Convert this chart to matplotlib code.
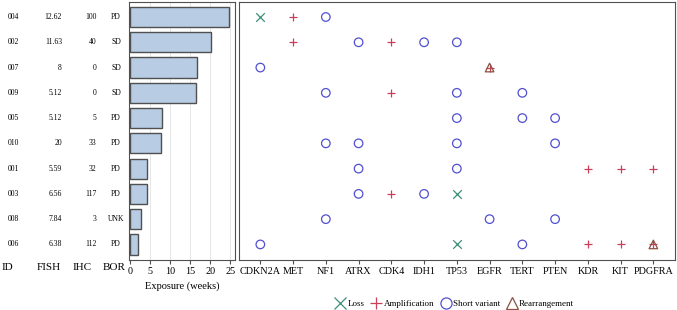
import matplotlib as mpl
mpl.use('Agg')
import matplotlib.pyplot as plt
from matplotlib.lines import Line2D

plt.rcParams['font.family'] = ['Liberation Serif', 'DejaVu Serif']

# patient table, top to bottom
ids = ['004', '002', '007', '009', '005', '010', '001', '003', '008', '006']
fish = ['12.62', '11.63', '8', '5.12', '5.12', '20', '5.59', '6.56', '7.84', '6.38']
ihc = ['100', '40', '0', '0', '5', '33', '32', '117', '3', '112']
bor = ['PD', 'SD', 'SD', 'SD', 'PD', 'PD', 'PD', 'PD', 'UNK', 'PD']
exposure = [24.7, 20.2, 16.8, 16.6, 8.1, 7.75, 4.2, 4.2, 2.8, 2.1]

genes = ['CDKN2A', 'MET', 'NF1', 'ATRX', 'CDK4', 'IDH1', 'TP53', 'EGFR',
         'TERT', 'PTEN', 'KDR', 'KIT', 'PDGFRA']

loss = [('004', 'CDKN2A'), ('003', 'TP53'), ('006', 'TP53')]
amplification = [('004', 'MET'), ('002', 'MET'), ('002', 'CDK4'), ('007', 'EGFR'),
                 ('009', 'CDK4'), ('001', 'KDR'), ('001', 'KIT'), ('001', 'PDGFRA'),
                 ('003', 'CDK4'), ('006', 'KDR'), ('006', 'KIT'), ('006', 'PDGFRA')]
short_variant = [('004', 'NF1'), ('002', 'ATRX'), ('002', 'IDH1'), ('002', 'TP53'),
                 ('007', 'CDKN2A'), ('009', 'NF1'), ('009', 'TP53'), ('009', 'TERT'),
                 ('005', 'TP53'), ('005', 'TERT'), ('005', 'PTEN'),
                 ('010', 'NF1'), ('010', 'ATRX'), ('010', 'TP53'), ('010', 'PTEN'),
                 ('001', 'ATRX'), ('001', 'TP53'), ('003', 'ATRX'), ('003', 'IDH1'),
                 ('008', 'NF1'), ('008', 'EGFR'), ('008', 'PTEN'),
                 ('006', 'CDKN2A'), ('006', 'TERT')]
rearrangement = [('007', 'EGFR'), ('006', 'PDGFRA')]

n = len(ids)
ypos = [n - 1 - i for i in range(n)]
row = dict(zip(ids, ypos))
col = {g: i for i, g in enumerate(genes)}

fig = plt.figure(figsize=(6.77, 3.10), dpi=100)
ax1 = fig.add_axes([0.191, 0.161, 0.1566, 0.833])
ax2 = fig.add_axes([0.3526, 0.161, 0.6444, 0.833])

# exposure bars
ax1.barh(ypos, exposure, height=0.8, color='#b8cce4', edgecolor='#505050', linewidth=1.0, zorder=2)
ax1.set_xlim(-0.15, 26.3)
ax1.set_ylim(-0.62, 9.6)
ax1.set_xticks([0, 5, 10, 15, 20, 25])
ax1.set_yticks([])
for v in [5, 10, 15, 20, 25]:
    ax1.axvline(v, color='#e6e6e6', lw=0.7, zorder=1)
ax1.tick_params(axis='x', labelsize=7.3, length=3, width=0.8, color='#505050', pad=2)
ax1.set_xlabel('Exposure (weeks)', fontsize=7.5, labelpad=4)
for s in ax1.spines.values():
    s.set_color('#505050')

# patient table (pixel columns converted to axes fraction)
trans = ax1.get_yaxis_transform()
fx = lambda px: (px - 129.3) / 106.0
for i, y in enumerate(ypos):
    ax1.text(fx(13.5), y, ids[i], transform=trans, fontsize=5.5, ha='center', va='center', clip_on=False)
    ax1.text(fx(62), y, fish[i], transform=trans, fontsize=5.5, ha='right', va='center', clip_on=False)
    ax1.text(fx(96.5), y, ihc[i], transform=trans, fontsize=5.5, ha='right', va='center', clip_on=False)
    ax1.text(fx(116), y, bor[i], transform=trans, fontsize=5.5, ha='center', va='center', clip_on=False)
for label, px in [('ID', 2), ('FISH', 37), ('IHC', 73), ('BOR', 103)]:
    fig.text(px / 677, 1 - 268 / 310, label, fontsize=8, ha='left', va='center')

# alteration grid
green = '#3a8f78'
red = '#c8415a'
blue = '#5050d0'
brown = '#8a5040'
ms = 38
ax2.scatter([col[g] for p, g in loss], [row[p] for p, g in loss], s=ms, marker='x', c=green, linewidths=0.9, zorder=3)
ax2.scatter([col[g] for p, g in amplification], [row[p] for p, g in amplification], s=ms, marker='+', c=red, linewidths=0.9, zorder=3)
ax2.scatter([col[g] for p, g in short_variant], [row[p] for p, g in short_variant], s=ms, marker='o', facecolors='none', edgecolors=blue, linewidths=0.9, zorder=3)
ax2.scatter([col[g] for p, g in rearrangement], [row[p] for p, g in rearrangement], s=ms, marker='^', facecolors='none', edgecolors=brown, linewidths=0.9, zorder=4)
ax2.set_xlim(-0.66, len(genes) - 1 + 0.66)
ax2.set_ylim(-0.62, 9.6)
ax2.set_xticks(range(len(genes)))
ax2.set_xticklabels(genes)
ax2.set_yticks([])
ax2.tick_params(axis='x', labelsize=7.3, length=3, width=0.8, color='#505050', pad=2)
for s in ax2.spines.values():
    s.set_color('#505050')

handles = [
    Line2D([], [], ls='none', marker='x', color=green, markersize=8, mew=0.9, label='Loss'),
    Line2D([], [], ls='none', marker='+', color=red, markersize=9, mew=0.9, label='Amplification'),
    Line2D([], [], ls='none', marker='o', mfc='none', mec=blue, markersize=8, mew=0.9, label='Short variant'),
    Line2D([], [], ls='none', marker='^', mfc='none', mec=brown, markersize=8, mew=0.9, label='Rearrangement'),
]
fig.legend(handles=handles, loc='center', bbox_to_anchor=(454 / 677, 1 - 304 / 310), ncol=4,
           frameon=False, fontsize=6.5, handletextpad=0.1, columnspacing=0.6, handlelength=1.4)

fig.savefig('out.png', dpi=100)
